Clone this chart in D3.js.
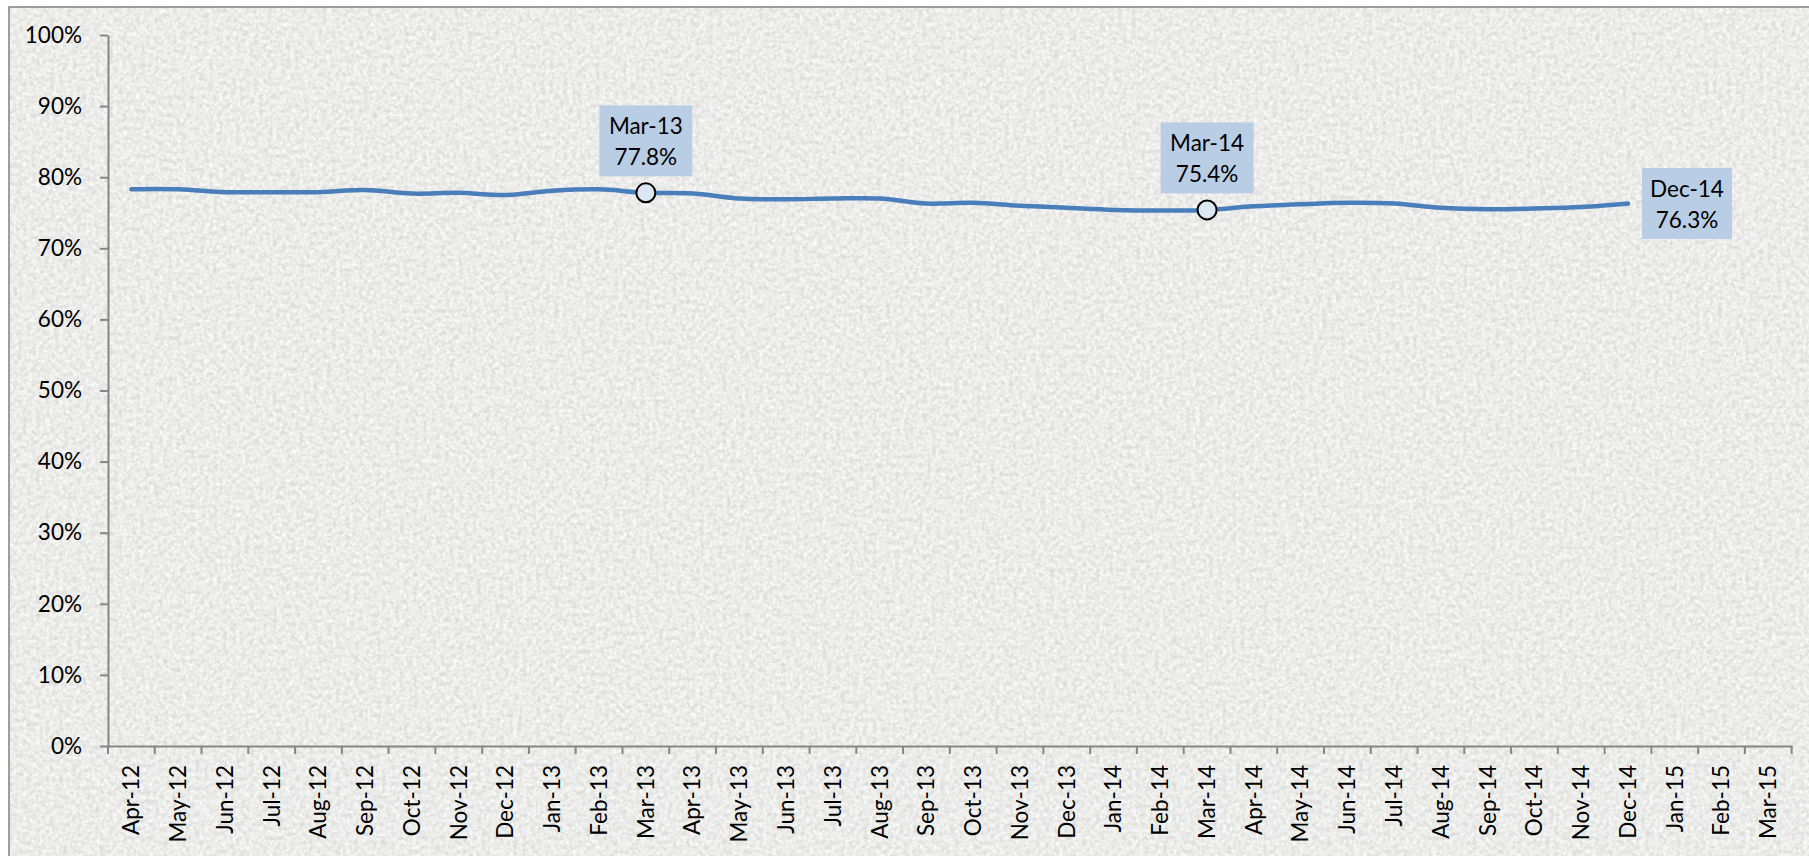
<!DOCTYPE html>
<html>
<head>
<meta charset="utf-8">
<script src="https://cdn.jsdelivr.net/npm/d3@7"></script>
<style>
  html, body { margin: 0; padding: 0; background: #ffffff; }
  svg { display: block; }
  text { font-family: Lato, "Open Sans", sans-serif; fill: #000; }
</style>
</head>
<body>
<svg id="chart" width="1809" height="856"></svg>
<script>
const months = ["Apr-12","May-12","Jun-12","Jul-12","Aug-12","Sep-12","Oct-12","Nov-12","Dec-12",
  "Jan-13","Feb-13","Mar-13","Apr-13","May-13","Jun-13","Jul-13","Aug-13","Sep-13","Oct-13","Nov-13","Dec-13",
  "Jan-14","Feb-14","Mar-14","Apr-14","May-14","Jun-14","Jul-14","Aug-14","Sep-14","Oct-14","Nov-14","Dec-14",
  "Jan-15","Feb-15","Mar-15"];
const values = [0.783,0.783,0.779,0.779,0.779,0.782,0.777,0.778,0.775,
  0.781,0.783,0.778,0.777,0.770,0.769,0.770,0.770,0.763,0.764,0.760,0.757,
  0.754,0.753,0.754,0.759,0.762,0.764,0.763,0.757,0.755,0.756,0.758,0.763];
const yTicks = [0,0.1,0.2,0.3,0.4,0.5,0.6,0.7,0.8,0.9,1.0];
const callouts = [
  {month: "Mar-13", label: "77.8%", pos: "above", marker: true},
  {month: "Mar-14", label: "75.4%", pos: "above", marker: true},
  {month: "Dec-14", label: "76.3%", pos: "right", marker: false}
];

const FS = "22.5px";
const svg = d3.select("#chart");
const defs = svg.append("defs");
const f = defs.append("filter").attr("id","tex").attr("x",0).attr("y",0).attr("width","100%").attr("height","100%");
f.append("feTurbulence").attr("type","fractalNoise").attr("baseFrequency","0.22").attr("numOctaves",3).attr("seed",11).attr("result","n");
f.append("feColorMatrix").attr("in","n").attr("type","matrix")
  .attr("values","0 0 0 0 0.62  0 0 0 0 0.62  0 0 0 0 0.61  2.8 0 0 0 -1.15");
const f2 = defs.append("filter").attr("id","tex2").attr("x",0).attr("y",0).attr("width","100%").attr("height","100%");
f2.append("feTurbulence").attr("type","fractalNoise").attr("baseFrequency","0.3").attr("numOctaves",2).attr("seed",3).attr("result","n");
f2.append("feColorMatrix").attr("in","n").attr("type","matrix")
  .attr("values","0 0 0 0 1  0 0 0 0 1  0 0 0 0 1  2.8 0 0 0 -1.1");

// chart area background + border
svg.append("rect").attr("x",9).attr("y",7).attr("width",1820).attr("height",880)
  .attr("fill","#ececea");
svg.append("rect").attr("x",9).attr("y",7).attr("width",1820).attr("height",880)
  .attr("filter","url(#tex2)").attr("opacity",0.8);
svg.append("rect").attr("x",9).attr("y",7).attr("width",1820).attr("height",880)
  .attr("filter","url(#tex)").attr("opacity",0.55);
svg.append("rect").attr("x",9).attr("y",7).attr("width",1820).attr("height",880)
  .attr("fill","none").attr("stroke","#888").attr("stroke-width",1.6);

const x = d3.scaleBand().domain(months).range([108, 1791.7]).padding(0);
const y = d3.scaleLinear().domain([0,1]).range([746, 35]);

const axisColor = "#868686";
// Y axis
const gy = svg.append("g").attr("transform","translate(108,0)")
  .call(d3.axisLeft(y).tickValues(yTicks).tickFormat(d3.format(".0%")).tickSize(8).tickSizeOuter(0).tickPadding(18));
gy.select(".domain").attr("stroke",axisColor).attr("stroke-width",2);
gy.selectAll(".tick line").attr("stroke",axisColor).attr("stroke-width",2);
gy.selectAll("text").attr("font-size",FS).attr("font-family","Lato, sans-serif").attr("fill","#000");

// X axis
const gx = svg.append("g").attr("transform","translate(0,746)")
  .call(d3.axisBottom(x).tickSize(0).tickSizeOuter(0));
gx.select(".domain").attr("stroke",axisColor).attr("stroke-width",2);
gx.selectAll("text")
  .attr("font-size",FS).attr("font-family","Lato, sans-serif").attr("fill","#000")
  .attr("transform","rotate(-90)").attr("x",-19).attr("y",0).attr("dy","0.35em")
  .attr("text-anchor","end");
const bounds = months.map(m => x(m)).concat([x.range()[1]]);
gx.selectAll("line.bt").data(bounds).enter().append("line").attr("class","bt")
  .attr("x1",d=>d).attr("x2",d=>d).attr("y1",0).attr("y2",8)
  .attr("stroke",axisColor).attr("stroke-width",2);

// line
const pts = values.map((v,i) => ({m: months[i], v}));
const line = d3.line().x(d => x(d.m) + x.bandwidth()/2).y(d => y(d.v)).curve(d3.curveCatmullRom);
svg.append("path").datum(pts).attr("d", line).attr("fill","none")
  .attr("stroke","#4a7ebb").attr("stroke-width",4.5).attr("stroke-linecap","round");

// callouts
callouts.forEach(c => {
  const i = months.indexOf(c.month);
  const px = x(c.month) + x.bandwidth()/2;
  const py = y(values[i]);
  const w = c.pos === "above" ? 93 : 90, h = 71;
  let bx, by;
  if (c.pos === "above") { bx = px - w/2; by = py - 16.5 - h; }
  else { bx = px + 14; by = py - h/2; }
  const g = svg.append("g");
  g.append("rect").attr("x",bx).attr("y",by).attr("width",w).attr("height",h).attr("fill","#b9cde5");
  g.append("text").attr("x",bx + w/2).attr("y",by + 21).attr("dy","0.35em").attr("text-anchor","middle")
    .attr("font-size",FS).text(c.month);
  g.append("text").attr("x",bx + w/2).attr("y",by + 52).attr("dy","0.35em").attr("text-anchor","middle")
    .attr("font-size",FS).text(c.label);
  if (c.marker) {
    svg.append("circle").attr("cx",px).attr("cy",py).attr("r",9.5)
      .attr("fill","#dce6f2").attr("stroke","#000").attr("stroke-width",2);
  }
});
</script>
</body>
</html>
